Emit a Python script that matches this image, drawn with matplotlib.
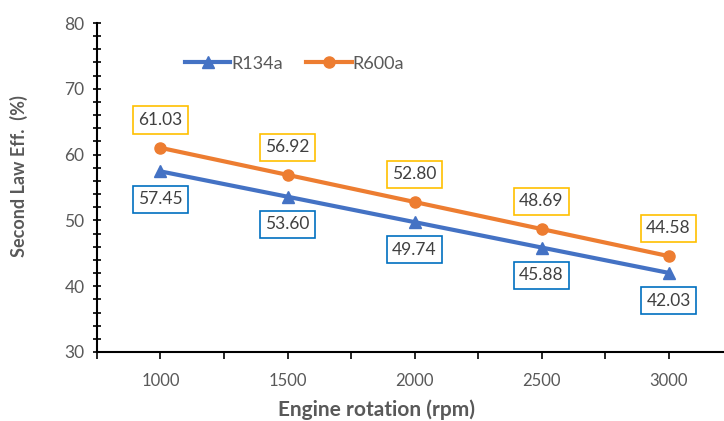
import matplotlib
matplotlib.use("Agg")
import matplotlib.pyplot as plt
from matplotlib.ticker import MultipleLocator

rpm = [1000, 1500, 2000, 2500, 3000]
r134a = [57.45, 53.60, 49.74, 45.88, 42.03]
r600a = [61.03, 56.92, 52.80, 48.69, 44.58]
xtick_labels = ["1000", "1500", "2000", "2500", "3000"]

plt.rcParams['font.family'] = ['Lato', 'DejaVu Sans']
gray = '#595959'
blue = '#4472C4'
orange = '#ED7D31'

fig = plt.figure(figsize=(7.24, 4.21), dpi=100)
ax = fig.add_axes([97/724, 1-352/421, 1-97/724, (352-23)/421])

ax.plot(rpm, r134a, color=blue, lw=3, marker='^', ms=9, label='R134a', zorder=3)
ax.plot(rpm, r600a, color=orange, lw=3, marker='o', ms=8, label='R600a', zorder=3)

for x, y in zip(rpm, r600a):
    ax.annotate(f"{y:.2f}", (x, y), xytext=(0, 20), textcoords='offset points',
                ha='center', va='center', fontsize=12.5, color='#404040',
                bbox=dict(boxstyle='square,pad=0.32', fc='white', ec='#FFC000', lw=1.2))
for x, y in zip(rpm, r134a):
    ax.annotate(f"{y:.2f}", (x, y), xytext=(0, -20), textcoords='offset points',
                ha='center', va='center', fontsize=12.5, color='#404040',
                bbox=dict(boxstyle='square,pad=0.32', fc='white', ec='#0070C0', lw=1.2))

ax.set_xlim(750, 750 + (724-97)/127*500)
ax.set_ylim(30, 80)
ax.set_xticks(rpm)
ax.set_xticklabels(xtick_labels)
ax.xaxis.set_minor_locator(MultipleLocator(250))
ax.yaxis.set_major_locator(MultipleLocator(10))
ax.yaxis.set_minor_locator(MultipleLocator(2))

for s in ['top', 'right']:
    ax.spines[s].set_visible(False)
for s in ['left', 'bottom']:
    ax.spines[s].set_linewidth(1.5)
    ax.spines[s].set_color('black')

ax.tick_params(axis='x', which='both', direction='out', length=5, width=1.2,
               labelsize=12, labelcolor=gray, pad=10)
ax.tick_params(axis='y', which='both', direction='inout', length=6, width=1.2,
               labelsize=12.5, labelcolor=gray, pad=6)

ax.set_xlabel('Engine rotation (rpm)', fontsize=15, fontweight='bold', color=gray)
ax.xaxis.set_label_coords((376-97)/627, -(399-352)/329)
ax.set_ylabel('Second Law Eff.  (%)', fontsize=13, fontweight='bold', color=gray)
ax.yaxis.set_label_coords(-(97-28)/627, (352-176)/329)

ax.legend(loc='upper left', bbox_to_anchor=(0.115, 0.95), ncol=2, frameon=False,
          fontsize=13, labelcolor=gray, handlelength=2.5, columnspacing=1.3,
          handletextpad=0.05)

fig.savefig('out.png', dpi=100)
